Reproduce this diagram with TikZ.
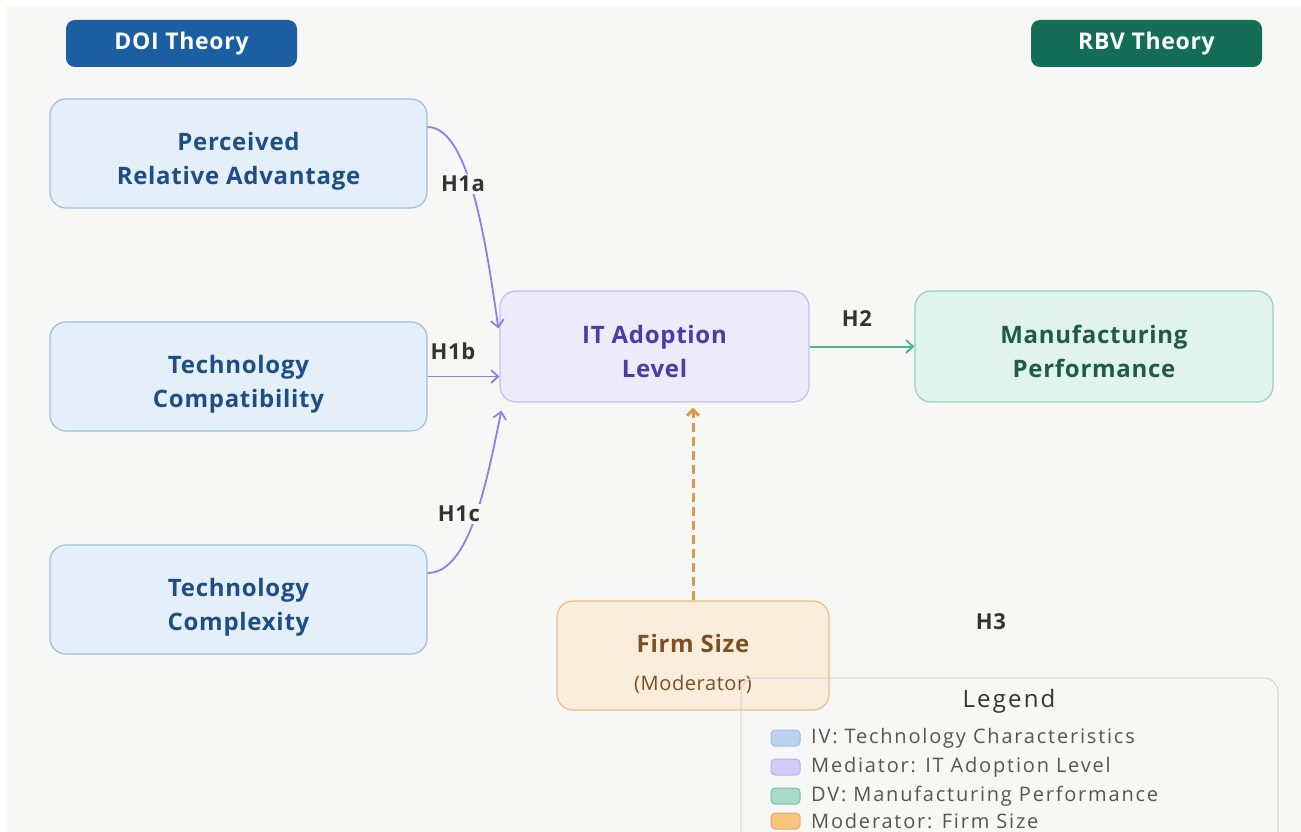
\documentclass[tikz,border=0pt]{standalone}
\usepackage{fontspec}
\setmainfont{Open Sans}
\newfontfamily\boxfont{Open Sans}[LetterSpace=3]
\newfontfamily\legfont{Open Sans}[LetterSpace=9]
\usetikzlibrary{arrows.meta}
\definecolor{bg}{HTML}{F7F7F5}
\definecolor{doi}{HTML}{1B5EA2}
\definecolor{rbv}{HTML}{136E55}
\definecolor{ivfill}{HTML}{E4EFFA}
\definecolor{ivdraw}{HTML}{9DBFE3}
\definecolor{ivtext}{HTML}{1E4E85}
\definecolor{medfill}{HTML}{ECEAFB}
\definecolor{meddraw}{HTML}{C5BEF2}
\definecolor{medtext}{HTML}{4A3DA5}
\definecolor{dvfill}{HTML}{E0F3EC}
\definecolor{dvdraw}{HTML}{94D2BB}
\definecolor{dvtext}{HTML}{1F5B47}
\definecolor{modfill}{HTML}{FBEDDB}
\definecolor{moddraw}{HTML}{E6BE85}
\definecolor{modtext}{HTML}{7B5024}
\definecolor{parrow}{HTML}{8B80EA}
\definecolor{garrow}{HTML}{4FB58E}
\definecolor{oarrow}{HTML}{D89B4D}
\definecolor{labtext}{HTML}{333333}
\definecolor{legtext}{HTML}{555555}
\begin{document}
\begin{tikzpicture}[x=1pt,y=-1pt,
  theory/.style={rounded corners=9pt, minimum width=231pt, minimum height=47pt, text=white, font=\fontsize{23}{24}\boxfont\bfseries, inner sep=0pt},
  box/.style={rounded corners=16pt, line width=1.2pt, align=center, inner sep=0pt, font=\fontsize{24}{34}\boxfont\bfseries, text height=74pt, text depth=12pt},
  ivbox/.style={box, fill=ivfill, draw=ivdraw, text=ivtext, minimum width=377pt, minimum height=109pt},
  medbox/.style={box, fill=medfill, draw=meddraw, text=medtext, minimum width=309pt, minimum height=111pt},
  dvbox/.style={box, fill=dvfill, draw=dvdraw, text=dvtext, minimum width=358pt, minimum height=111pt},
  modbox/.style={box, fill=modfill, draw=moddraw, text=modtext, minimum width=272pt, minimum height=109pt, text height=80pt, text depth=11pt},
  hlab/.style={font=\fontsize{22}{24}\boxfont\bfseries, text=labtext, fill=bg, inner sep=2pt},
  parr/.style={draw=parrow, line width=1.8pt, -{Straight Barb[length=7pt,width=13pt]}},
  swatch/.style={rounded corners=4pt, minimum width=29pt, minimum height=16pt, inner sep=0pt, line width=1pt},
  legitem/.style={anchor=west, font=\fontsize{20}{22}\legfont, text=legtext, inner sep=0pt}
]
\useasboundingbox (0,0) rectangle (1301,832);
\fill[white] (0,0) rectangle (1301,832);
\fill[bg] (6,6) rectangle (1301,832);

\node[theory, fill=doi] (doi) at (181.5,43.5) {DOI Theory};
\node[theory, fill=rbv] (rbv) at (1146.5,43.5) {RBV Theory};

\node[ivbox] (pra) at (238.5,153.5) {Perceived\\Relative Advantage};
\node[ivbox] (cp) at (238.5,376.5) {Technology\\Compatibility};
\node[ivbox] (cx) at (238.5,599.5) {Technology\\Complexity};
\node[medbox] (it) at (654.5,346.5) {IT Adoption\\Level};
\node[dvbox] (mp) at (1094,346.5) {Manufacturing\\Performance};
\node[modbox] (fs) at (693,655.5) {Firm Size\\[4pt]{\fontsize{20}{22}\boxfont\mdseries (Moderator)}};

% connectors
\draw[parr] ([yshift=26.5pt]pra.east) .. controls (470,127) and (487,250) .. ([xshift=-1pt,yshift=-38pt]it.north west);
\node[hlab] (h1a) at (463,184) {H1a};
\draw[parr] (cp.east) -- (cp.east -| it.west);
\node[hlab] (h1b) at (453,351) {H1b};
\draw[parr] ([yshift=26.5pt]cx.east) .. controls (470,573) and (487,480) .. ([xshift=2pt,yshift=-8pt]it.south west);
\node[hlab] (h1c) at (459,514) {H1c};
\draw[draw=garrow, line width=2pt, -{Straight Barb[length=7pt,width=13pt]}] (it.east) -- (mp.west);
\node[hlab] (h2) at (857,319) {H2};
\path (fs.north |- it.south) ++(0,5) coordinate (dtip);
\draw[draw=oarrow, line width=3pt, dash pattern=on 9pt off 5pt, -{Straight Barb[length=6pt,width=12pt]}] (fs.north) -- (dtip);
\node[hlab, fill=none] (h3) at (991,622) {H3};

% legend
\draw[draw=black!17, line width=1pt, rounded corners=14pt] (741,678) rectangle (1278,845);
\node[font=\fontsize{24}{26}\legfont, text=labtext] (legt) at (1009,701) {Legend};
\node[swatch, fill=ivdraw!70!white, draw=ivdraw] (s1) at (785.5,738) {};
\node[legitem] (l1) at (811,738) {IV: Technology Characteristics};
\node[swatch, fill=meddraw!80!white, draw=meddraw!80!parrow] (s2) at (785.5,767) {};
\node[legitem] (l2) at (811,767) {Mediator: IT Adoption Level};
\node[swatch, fill=dvdraw!80!white, draw=garrow!80!white] (s3) at (785.5,796) {};
\node[legitem] (l3) at (811,796) {DV: Manufacturing Performance};
\node[swatch, fill={rgb,255:red,248;green,196;blue,122}, draw=oarrow!80!white] (s4) at (785.5,821) {};
\node[legitem] (l4) at (811,821) {Moderator: Firm Size};
\end{tikzpicture}
\end{document}
